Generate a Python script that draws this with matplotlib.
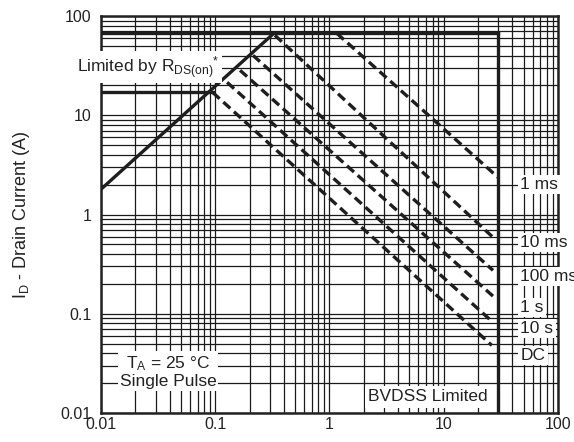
import matplotlib
matplotlib.use("Agg")
import matplotlib.pyplot as plt
from matplotlib.ticker import FixedLocator, FixedFormatter, LogLocator, NullFormatter

plt.rcParams["font.family"] = ["Liberation Sans", "DejaVu Sans"]
plt.rcParams["mathtext.fontset"] = "custom"
plt.rcParams["mathtext.rm"] = "Liberation Sans"
plt.rcParams["mathtext.it"] = "Liberation Sans"

# safe operating area data
rds_vds = [0.01, 0.33]
rds_id = [1.8, 68]
pkg_limit = 68        # horizontal current limit (A)
bvdss = 30            # breakdown voltage (V)
dc_limit = 17         # lower horizontal limit (A)
dc_limit_end = 0.095

pulse_labels = ["1 ms", "10 ms", "100 ms", "1 s", "10 s", "DC"]
pulse_vds_start = [1.16, 0.333, 0.214, 0.165, 0.127, 0.095]
pulse_id_start = [67, 64, 40.2, 28.4, 21.5, 17]
pulse_vds_end = [29.9, 27, 27, 28.4, 27, 26.4]
pulse_id_end = [2.37, 0.59, 0.274, 0.143, 0.082, 0.048]
label_y = [2.02, 0.525, 0.239, 0.116, 0.0714, 0.038]

tick_vals = [0.01, 0.1, 1, 10, 100]
tick_text = ["0.01", "0.1", "1", "10", "100"]

fig = plt.figure(figsize=(5.74, 4.42), dpi=100)
ax = fig.add_axes([0.176, 0.0656, 0.796, 0.898])
ax.set_xscale("log")
ax.set_yscale("log")
ax.set_xlim(0.01, 100)
ax.set_ylim(0.01, 100)

ax.xaxis.set_major_locator(FixedLocator(tick_vals))
ax.xaxis.set_major_formatter(FixedFormatter(tick_text))
ax.yaxis.set_major_locator(FixedLocator(tick_vals))
ax.yaxis.set_major_formatter(FixedFormatter(tick_text))
for axis in (ax.xaxis, ax.yaxis):
    axis.set_minor_locator(LogLocator(base=10, subs=range(2, 10)))
    axis.set_minor_formatter(NullFormatter())
ax.tick_params(which="both", length=0, labelsize=11.5, colors="#222222")
ax.tick_params(axis="y", pad=7)
ax.tick_params(axis="x", pad=3)
ax.grid(True, which="both", color="#1a1a1a", linewidth=0.9)
ax.set_axisbelow(True)
for s in ax.spines.values():
    s.set_linewidth(1.8)
    s.set_color("#222222")

lc = "#1e1e1e"
lw = 2.4
ax.plot(rds_vds, rds_id, color=lc, lw=lw, solid_capstyle="butt", zorder=3)
ax.plot([0.01, bvdss], [pkg_limit, pkg_limit], color=lc, lw=lw, zorder=3)
ax.plot([bvdss, bvdss], [pkg_limit, 0.01], color=lc, lw=lw, zorder=3)
ax.plot([0.01, dc_limit_end], [dc_limit, dc_limit], color=lc, lw=lw, zorder=3)

for x0, y0, x1, y1 in zip(pulse_vds_start, pulse_id_start, pulse_vds_end, pulse_id_end):
    ax.plot([x0, x1], [y0, y1], color=lc, lw=2.4, linestyle=(0, (2.8, 1.5)), zorder=3)

fs = 12.5
box = dict(facecolor="white", edgecolor="none", pad=1.5)
for lab, yv in zip(pulse_labels, label_y):
    ax.text(47, yv, lab, ha="left", va="center", fontsize=fs, color="#222222",
            bbox=box, zorder=4, clip_on=False)

ax.text(0.026, 30.5, r"Limited by R$_{\mathregular{DS(on)}}$$^{*}$", ha="center", va="center",
        fontsize=fs, color="#222222", bbox=dict(facecolor="white", edgecolor="none", pad=2),
        zorder=4, clip_on=False)
ax.text(0.0386, 0.026, "T$_{\\mathregular{A}}$ = 25 °C\nSingle Pulse", ha="center", va="center",
        fontsize=fs, color="#222222", linespacing=1.05,
        bbox=dict(facecolor="white", edgecolor="none", pad=1.5), zorder=4)
ax.text(7.3, 0.0145, "BVDSS Limited", ha="center", va="center", fontsize=fs,
        color="#222222", bbox=dict(facecolor="white", edgecolor="none", pad=2.5), zorder=4)

ax.set_ylabel(r"I$_{\mathregular{D}}$ - Drain Current (A)", fontsize=13, color="#222222",
              labelpad=20)

fig.savefig("out.png", dpi=100)
